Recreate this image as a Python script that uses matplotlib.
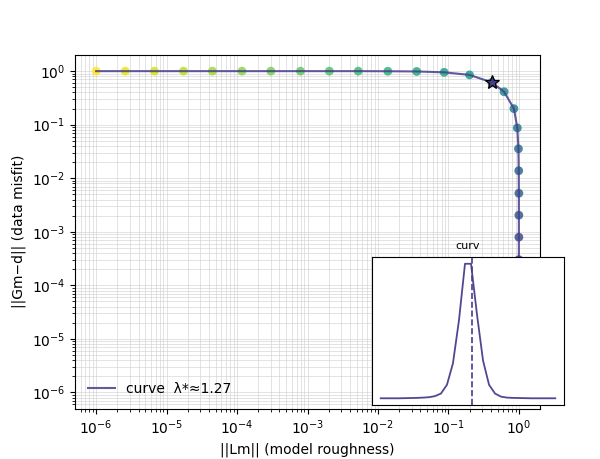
import numpy as np
import matplotlib
matplotlib.use("Agg")
import matplotlib.pyplot as plt

# L-curve data (log10 values)
log_rough = [-6.0, -5.587, -5.173, -4.76, -4.35, -3.93, -3.52, -3.10, -2.69, -2.28,
             -1.86, -1.45, -1.06, -0.70, -0.385,
             -0.21, -0.07, -0.022, -0.006, -0.002, 0.0, 0.0, 0.0, 0.0, 0.0,
             0.0, 0.0, 0.0, 0.0, 0.0]
log_misfit = [0.0, 0.0, 0.0, 0.0, 0.0, 0.0, 0.0, 0.0, 0.0, 0.0,
              -0.002, -0.006, -0.022, -0.07, -0.21,
              -0.385, -0.70, -1.06, -1.45, -1.86, -2.28, -2.69, -3.10, -3.52, -3.93,
              -4.35, -4.76, -5.173, -5.587, -6.0]
curvature = [0.0, 0.0, 0.0, 0.0, 0.001, 0.002, 0.003, 0.005, 0.008, 0.016,
             0.035, 0.10, 0.26, 0.58, 1.0,
             1.0, 0.62, 0.28, 0.10, 0.035, 0.012, 0.005, 0.003, 0.002, 0.001,
             0.0, 0.0, 0.0, 0.0, 0.0]
corner_index = 14
corner_marker_pos = 15.1
lambda_star_label = "1.27"

rough = 10.0 ** np.array(log_rough)
misfit = 10.0 ** np.array(log_misfit)
idx = np.arange(len(rough))

fig = plt.figure(figsize=(6.0, 4.59), dpi=100)
ax = fig.add_subplot(111)

line_color = "#483d8b"
ax.scatter(rough, misfit, c=idx, cmap="viridis_r", s=40, alpha=0.85, zorder=2,
           edgecolors="none")
ax.plot(rough, misfit, color=line_color, lw=1.5, alpha=0.85, zorder=3,
        label=f"curve  λ*≈{lambda_star_label}")
ax.plot(rough[corner_index], misfit[corner_index], marker="*", markersize=10,
        markerfacecolor=line_color, markeredgecolor="black", markeredgewidth=0.9,
        linestyle="none", zorder=4)
ax.set_xscale("log")
ax.set_yscale("log")
ax.grid(True, which="both", color="#d0d0d0", lw=0.6, alpha=0.7)
ax.set_xlabel("||Lm|| (model roughness)")
ax.set_ylabel("||Gm\u2212d|| (data misfit)")
ax.legend(loc="lower left", frameon=False)

ins = fig.add_axes([0.62, 0.1176, 0.32, 0.3224])
ins.plot(idx, curvature, color=line_color, lw=1.3, alpha=0.95)
ins.axvline(corner_marker_pos, color=line_color, ls="--", lw=1.2)
ins.set_xticks([])
ins.set_yticks([])
ins.set_title("curv", fontsize=8)

fig.savefig("out.png", dpi=100)
